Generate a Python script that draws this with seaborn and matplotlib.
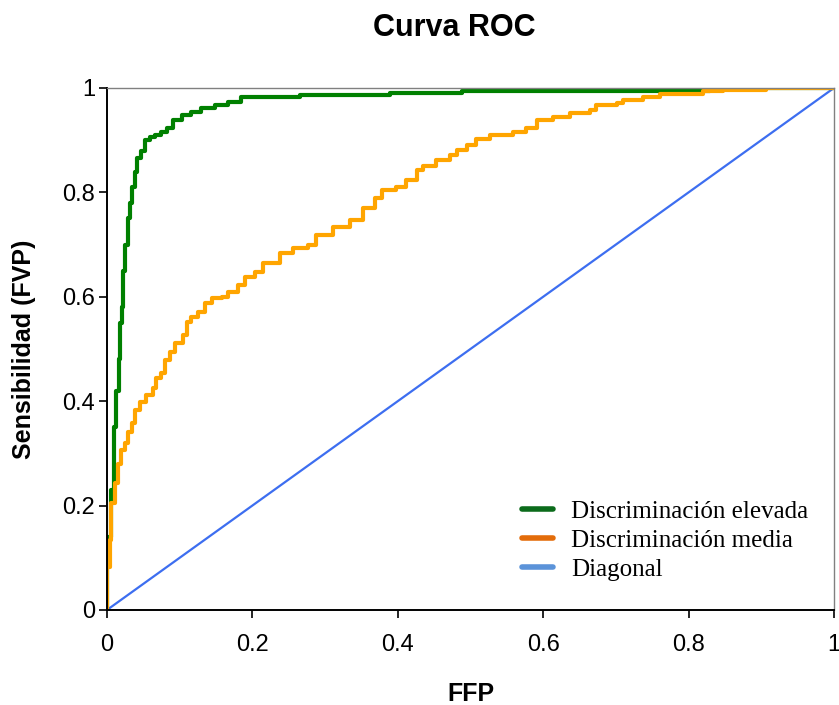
import matplotlib
matplotlib.use("Agg")
import matplotlib.pyplot as plt
from matplotlib.lines import Line2D
import seaborn as sns

# ROC curve for a highly discriminating test
fpr_high = [0, 0, 0.0055, 0.009, 0.012, 0.016, 0.018, 0.020, 0.022, 0.025,
            0.029, 0.032, 0.035, 0.0385, 0.041, 0.047, 0.052, 0.059, 0.066, 0.075,
            0.082, 0.091, 0.103, 0.116, 0.130, 0.149, 0.167, 0.185, 0.265, 0.39,
            0.488, 0.83, 0.905, 1.0]
tpr_high = [0, 0.14, 0.23, 0.35, 0.42, 0.48, 0.55, 0.58, 0.65, 0.70,
            0.75, 0.78, 0.81, 0.84, 0.866, 0.88, 0.90, 0.906, 0.91, 0.916,
            0.923, 0.939, 0.948, 0.954, 0.962, 0.967, 0.973, 0.982, 0.987, 0.991,
            0.995, 0.998, 1.0, 1.0]

# ROC curve for a moderately discriminating test
fpr_mid = [0, 0, 0.004, 0.006, 0.011, 0.0155, 0.019, 0.025, 0.029, 0.034,
           0.0385, 0.045, 0.054, 0.063, 0.068, 0.075, 0.080, 0.087, 0.0935, 0.105,
           0.110, 0.116, 0.1255, 0.135, 0.144, 0.158, 0.167, 0.180, 0.190, 0.204,
           0.215, 0.238, 0.256, 0.277, 0.288, 0.311, 0.334, 0.352, 0.369, 0.378,
           0.398, 0.412, 0.426, 0.435, 0.453, 0.472, 0.481, 0.495, 0.508, 0.527,
           0.558, 0.577, 0.591, 0.614, 0.637, 0.664, 0.673, 0.701, 0.710, 0.737,
           0.761, 0.820, 0.847, 0.907, 1.0]
tpr_mid = [0, 0.082, 0.134, 0.205, 0.243, 0.28, 0.306, 0.32, 0.34, 0.358,
           0.383, 0.399, 0.412, 0.425, 0.444, 0.454, 0.479, 0.495, 0.511, 0.527,
           0.552, 0.562, 0.571, 0.588, 0.598, 0.60, 0.61, 0.623, 0.638, 0.648,
           0.665, 0.684, 0.693, 0.699, 0.718, 0.734, 0.747, 0.77, 0.789, 0.805,
           0.811, 0.824, 0.843, 0.851, 0.862, 0.872, 0.881, 0.891, 0.902, 0.91,
           0.916, 0.923, 0.939, 0.945, 0.953, 0.958, 0.967, 0.972, 0.977, 0.982,
           0.988, 0.994, 0.997, 1.0, 1.0]

diag_x = [0, 1]
diag_y = [0, 1]

series_labels = ["Discriminación elevada", "Discriminación media", "Diagonal"]
tick_values = [0, 0.2, 0.4, 0.6, 0.8, 1]
tick_labels = ["0", "0.2", "0.4", "0.6", "0.8", "1"]

sns.set_style("white")
plt.rcParams["font.family"] = ["Liberation Sans", "DejaVu Sans"]
plt.rcParams["text.color"] = "black"
plt.rcParams["axes.labelcolor"] = "black"

fig = plt.figure(figsize=(8.39, 7.05), dpi=100)
ax = fig.add_axes([0.1275, 0.1348, 0.8665, 0.7404])

sns.lineplot(x=diag_x, y=diag_y, ax=ax, color="#3d6ef0", linewidth=1.6,
             estimator=None, sort=False)
sns.lineplot(x=fpr_high, y=tpr_high, ax=ax, color="#008000", linewidth=3.0,
             estimator=None, sort=False, drawstyle="steps-post")
sns.lineplot(x=fpr_mid, y=tpr_mid, ax=ax, color="#ffa500", linewidth=3.0,
             estimator=None, sort=False, drawstyle="steps-post")

ax.set_xlim(0, 1)
ax.set_ylim(0, 1)
ax.set_xticks(tick_values)
ax.set_xticklabels(tick_labels)
ax.set_yticks(tick_values)
ax.set_yticklabels(tick_labels)
ax.tick_params(axis="both", direction="out", length=5.5, width=1.2,
               colors="black", labelsize=17, left=True, bottom=True)
ax.tick_params(axis="x", pad=12)
ax.tick_params(axis="y", pad=3)

for side in ("left", "bottom"):
    ax.spines[side].set_color("black")
    ax.spines[side].set_linewidth(1.4)
for side in ("top", "right"):
    ax.spines[side].set_color("#808080")
    ax.spines[side].set_linewidth(1.0)

ax.set_xlabel("FFP", fontsize=18, fontweight="bold")
ax.set_ylabel("Sensibilidad (FVP)", fontsize=18, fontweight="bold")
ax.xaxis.set_label_coords(0.5, -0.161)
ax.xaxis.label.set_verticalalignment("center")
ax.yaxis.set_label_coords(-0.114, 0.5)
ax.yaxis.label.set_verticalalignment("center")

fig.text(0.542, 1 - 27.5 / 705, "Curva ROC", ha="center", va="center",
         fontsize=22, fontweight="bold")

handles = [Line2D([], [], color="#0b6b1b", linewidth=4),
           Line2D([], [], color="#e36c0a", linewidth=4),
           Line2D([], [], color="#5b93d9", linewidth=4)]
ax.legend(handles, series_labels, loc="upper left",
          bbox_to_anchor=(522 / 839, 1 - 500 / 705),
          bbox_transform=fig.transFigure, frameon=False, borderpad=0,
          borderaxespad=0, prop={"family": "Liberation Serif", "size": 18},
          handlelength=1.25, handletextpad=0.7, labelspacing=0.27)

fig.savefig("out.png", dpi=100)
